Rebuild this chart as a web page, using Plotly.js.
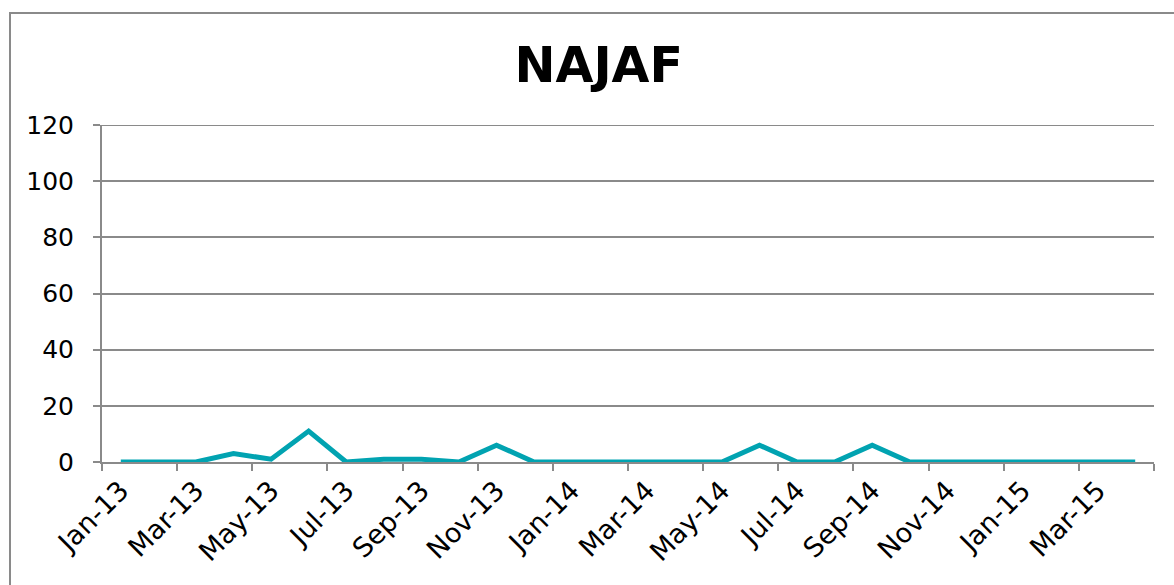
<!DOCTYPE html>
<html>
<head>
<meta charset="utf-8">
<script src="https://cdn.plot.ly/plotly-3.0.1.min.js"></script>
<style>
html,body{margin:0;padding:0;background:#fff;}
#chart{width:1174px;height:585px;}
</style>
</head>
<body>
<div id="chart"></div>
<script>
const months = ["Jan-13","Feb-13","Mar-13","Apr-13","May-13","Jun-13","Jul-13","Aug-13","Sep-13","Oct-13","Nov-13","Dec-13",
                "Jan-14","Feb-14","Mar-14","Apr-14","May-14","Jun-14","Jul-14","Aug-14","Sep-14","Oct-14","Nov-14","Dec-14",
                "Jan-15","Feb-15","Mar-15","Apr-15"];
const values = [0,0,0,3,1,11,0,1,1,0,6,0,
                0,0,0,0,0,6,0,0,6,0,0,0,
                0,0,0,0];
const yTicks = [0,20,40,60,80,100,120];
const yMax = 120;

const grid = '#8a8a8a';
const fam = 'Verdana, DejaVu Sans, sans-serif';
const yFont = {family: fam, size: 25, color: '#000'};
const xFont = {family: fam, size: 27, color: '#000'};

const trace = {
  x: months, y: values, type: 'scatter', mode: 'lines',
  line: {color: '#01A3B1', width: 5},
  hoverinfo: 'x+y'
};

const layout = {
  width: 1174, height: 585,
  margin: {l: 102, r: 20, t: 125, b: 123},
  paper_bgcolor: '#fff', plot_bgcolor: '#fff',
  showlegend: false,
  font: yFont,
  title: {text: '<b>NAJAF</b>', font: {family: fam, size: 49, color: '#000'},
          x: 0.51, xanchor: 'center', y: 0.89, yanchor: 'middle'},
  xaxis: {
    type: 'category', range: [-0.5, 27.5],
    tickmode: 'linear', tick0: 0, dtick: 2,
    tickson: 'boundaries', ticks: 'outside', ticklen: 7, tickwidth: 2, tickcolor: grid,
    showline: true, linecolor: grid, linewidth: 2,
    showgrid: false, zeroline: false,
    tickangle: -45, tickfont: xFont
  },
  yaxis: {
    range: [0, yMax], tickvals: yTicks,
    ticks: 'outside', ticklen: 7, tickwidth: 2, tickcolor: grid,
    showline: true, linecolor: grid, linewidth: 2,
    showgrid: true, gridcolor: grid, gridwidth: 2,
    zeroline: false, tickfont: yFont, ticklabelstandoff: 14
  },
  shapes: [{
    type: 'rect', xref: 'paper', yref: 'paper',
    x0: (10 - 102) / 1052, x1: (1190 - 102) / 1052,
    y0: (462 - 620) / 337, y1: (462 - 13) / 337,
    line: {color: '#8a8a8a', width: 2}, fillcolor: 'rgba(0,0,0,0)', layer: 'below'
  }, {
    type: 'line', xref: 'paper', yref: 'y',
    x0: 0, x1: 1, y0: yMax, y1: yMax,
    line: {color: grid, width: 2}, layer: 'below'
  }]
};

Plotly.newPlot('chart', [trace], layout, {displayModeBar: false, staticPlot: true});
</script>
</body>
</html>
